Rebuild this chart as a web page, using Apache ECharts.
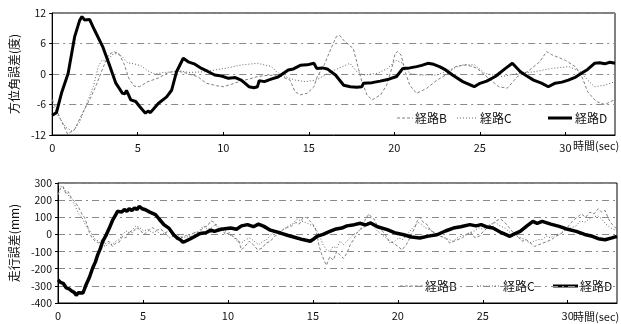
<!DOCTYPE html>
<html>
<head>
<meta charset="utf-8">
<script src="https://cdn.jsdelivr.net/npm/echarts@6/dist/echarts.min.js"></script>
<style>
html,body{margin:0;padding:0;background:#fff;}
#chart{width:621px;height:324px;}
</style>
</head>
<body>
<div id="chart"></div>
<script>
// Heading error (deg) vs time (sec): [time, value]
const headingB = [[0,-5],[0.5,-9],[0.9,-11.8],[1.3,-11],[1.8,-7.5],[2.2,-5],[2.6,-2],[3.0,1.5],[3.3,3.8],[3.6,4.4],[3.9,4.0],[4.2,2],[4.5,-1],[4.8,-2.4],[5.1,-2.5],[5.6,-1.5],[6.2,-0.8],[6.8,0.3],[7.3,0.6],[7.8,0.2],[8.5,-0.5],[9.0,-1.8],[9.6,-2.3],[10.0,-2.5],[10.5,-2.0],[11.0,-1.4],[11.5,-1.0],[12.0,-0.5],[12.5,-0.3],[13.2,-0.2],[13.9,-1.2],[14.2,-3.5],[14.5,-4.1],[14.9,-3.8],[15.3,-2.5],[15.5,-0.5],[15.9,1.8],[16.3,5],[16.6,7.3],[16.8,7.6],[17.1,6.4],[17.6,5.0],[17.8,2.4],[18.1,-1.5],[18.4,-4.1],[18.7,-5.1],[19.2,-4.1],[19.55,-2.2],[19.85,1.1],[20.05,4.1],[20.2,4.4],[20.4,3.7],[20.6,0.8],[20.9,-2.2],[21.3,-3.8],[21.9,-2.8],[22.5,-1.2],[23.0,-0.2],[23.6,1.5],[24.2,1.8],[24.8,1.2],[25.5,-0.8],[26.1,-2.5],[26.6,-2.8],[27.2,-0.5],[27.8,0.5],[28.5,2.4],[28.9,4.4],[29.2,3.8],[30.0,2.7],[30.6,1.4],[31.0,-0.8],[31.3,-3.5],[31.8,-5.4],[32.3,-6],[32.9,-5]];
const headingC = [[0,-6],[0.4,-8.5],[0.8,-10.5],[1.2,-11.3],[1.6,-9.5],[2.0,-6],[2.4,-2.5],[2.7,1.5],[2.9,2.7],[3.2,2.5],[3.5,3.8],[3.8,4.1],[4.1,3.4],[4.4,2.2],[4.8,2.0],[5.2,1.6],[5.6,0.6],[6.0,0.0],[6.5,0.3],[7.0,0.4],[7.5,0.6],[8.0,0.3],[8.9,0.45],[10.1,1.1],[11.1,1.8],[12.0,2.1],[12.8,1.5],[13.1,0.5],[13.6,-0.5],[14.2,-1.2],[14.8,-1.5],[15.4,-1.2],[15.8,-0.5],[16.3,0.5],[16.8,1.2],[17.4,2.1],[17.8,0.5],[18.2,-0.2],[19.0,0.1],[19.6,1.1],[20.1,2.7],[20.5,2.1],[20.9,0.1],[21.5,-0.2],[22.5,-0.2],[23.2,0.8],[24.0,1.8],[24.7,1.8],[25.3,0.1],[26.3,-0.5],[27.2,0.1],[28.2,0.45],[29.2,1.1],[30.2,1.45],[30.9,0.45],[31.3,-1.2],[31.7,-2.5],[32.3,-2.2],[32.9,-1.5]];
const headingD = [[0,-8.1],[0.25,-7.6],[0.54,-3.8],[0.93,0.1],[1.31,7.3],[1.6,10.5],[1.74,11.3],[1.9,10.6],[2.0,10.9],[2.19,10.7],[2.48,8.6],[2.95,5.4],[3.34,1.8],[3.72,-1.8],[4.11,-3.8],[4.25,-3.9],[4.34,-3.2],[4.45,-4.0],[4.59,-5.1],[4.88,-5.4],[5.0,-5.9],[5.11,-6.4],[5.45,-7.7],[5.6,-7.3],[5.74,-7.6],[6.2,-5.8],[6.69,-4.5],[6.98,-3.2],[7.27,0.45],[7.66,3.1],[7.95,2.4],[8.3,2.0],[8.73,1.1],[9.1,0.5],[9.5,-0.2],[9.9,-0.4],[10.3,-0.85],[10.7,-0.7],[11.05,-1.2],[11.3,-1.9],[11.5,-2.5],[11.8,-2.7],[12.0,-2.5],[12.1,-1.3],[12.4,-1.5],[12.8,-1.0],[13.2,-0.6],[13.8,0.8],[14.1,1.0],[14.5,1.7],[14.9,1.8],[15.3,2.1],[15.46,1.1],[15.8,1.2],[16.08,1.0],[16.56,-0.2],[17.04,-2.2],[17.43,-2.5],[17.8,-2.6],[18.1,-2.5],[18.2,-1.8],[18.7,-1.7],[19.17,-1.4],[19.6,-1.1],[20.13,-0.5],[20.5,1.1],[20.9,1.2],[21.3,1.45],[21.6,1.7],[21.96,2.1],[22.3,1.9],[22.64,1.45],[23.0,0.8],[23.4,-0.2],[24.0,-1.5],[24.67,-2.5],[24.96,-1.9],[25.4,-1.4],[25.9,-0.5],[26.5,1.1],[26.9,2.1],[27.37,0.45],[27.7,-0.3],[28.14,-1.2],[28.6,-1.8],[29.0,-2.5],[29.4,-1.8],[29.8,-1.6],[30.17,-1.2],[30.6,-0.6],[30.94,0.14],[31.3,0.9],[31.7,2.1],[32.0,2.2],[32.3,2.0],[32.6,2.3],[32.9,2.1]];

// Lateral error (mm) vs time (sec): [time, value]
const lateralB = [[0,230],[0.15,270],[0.3,280],[0.45,240],[0.6,250],[0.8,210],[1.0,190],[1.2,160],[1.4,120],[1.55,100],[1.7,60],[1.85,10],[2.0,-20],[2.2,-40],[2.4,-50],[2.6,-30],[2.8,-55],[3.0,-40],[3.2,-70],[3.4,-50],[3.6,-45],[3.8,-10],[4.0,-20],[4.2,20],[4.4,10],[4.6,40],[4.8,30],[5.05,0],[5.3,20],[5.55,40],[5.8,25],[6.05,30],[6.3,10],[6.55,20],[6.8,-10],[7.05,0],[7.3,-20],[7.55,-5],[7.8,-15],[8.05,15],[8.3,10],[8.55,40],[8.8,50],[9.0,80],[9.2,70],[9.4,30],[9.6,40],[9.85,0],[10.1,10],[10.35,-20],[10.6,-30],[10.8,-90],[11.0,-70],[11.25,-40],[11.5,-60],[11.75,-90],[12.0,-80],[12.25,-50],[12.5,-40],[12.75,-10],[13.0,0],[13.25,30],[13.5,40],[13.75,50],[14.0,70],[14.2,60],[14.4,95],[14.6,100],[14.8,80],[15.0,60],[15.2,20],[15.35,-60],[15.5,-110],[15.65,-150],[15.8,-180],[16.0,-130],[16.2,-150],[16.4,-100],[16.6,-120],[16.8,-140],[17.0,-110],[17.2,-60],[17.4,-30],[17.6,10],[17.8,30],[18.05,80],[18.3,120],[18.45,100],[18.6,90],[18.8,50],[19.0,30],[19.25,0],[19.5,-40],[19.75,-50],[20.0,-70],[20.25,-90],[20.5,-60],[20.75,-10],[21.0,40],[21.15,80],[21.3,100],[21.5,70],[21.7,60],[21.95,20],[22.2,10],[22.5,-10],[22.8,-20],[23.05,-50],[23.3,-40],[23.55,-30],[23.8,-20],[24.05,0],[24.3,10],[24.55,-20],[24.8,-10],[25.05,20],[25.3,40],[25.55,60],[25.8,80],[26.05,90],[26.3,70],[26.55,40],[26.8,10],[27.05,-10],[27.3,-40],[27.55,-30],[27.8,-50],[28.05,-70],[28.3,-60],[28.55,-50],[28.8,-40],[29.05,-30],[29.3,-10],[29.55,0],[29.8,20],[30.05,50],[30.3,80],[30.55,100],[30.8,120],[31.05,100],[31.3,130],[31.55,120],[31.8,150],[32.0,130],[32.2,140],[32.4,90],[32.6,60],[32.9,30]];
const lateralC = [[0,290],[0.2,280],[0.4,260],[0.6,230],[0.8,200],[1.0,170],[1.2,120],[1.4,100],[1.6,60],[1.8,30],[2.0,0],[2.2,-30],[2.4,-40],[2.6,-60],[2.8,-70],[3.0,-50],[3.2,-60],[3.4,-40],[3.6,-30],[3.8,0],[4.0,20],[4.2,10],[4.4,30],[4.6,50],[4.8,40],[5.05,20],[5.3,30],[5.55,10],[5.8,20],[6.05,0],[6.3,10],[6.55,-20],[6.8,-10],[7.05,-30],[7.3,-10],[7.55,-20],[7.8,0],[8.05,10],[8.3,20],[8.55,50],[8.8,30],[9.05,40],[9.3,60],[9.55,30],[9.8,20],[10.05,0],[10.3,-10],[10.55,-40],[10.8,-50],[11.05,-30],[11.3,-20],[11.55,-40],[11.8,-60],[12.05,-40],[12.3,-30],[12.55,0],[12.8,20],[13.05,10],[13.3,30],[13.55,50],[13.8,60],[14.05,90],[14.3,80],[14.55,70],[14.8,60],[15.0,50],[15.2,30],[15.4,-10],[15.6,-60],[15.8,-90],[16.0,-100],[16.2,-70],[16.4,-80],[16.6,-40],[16.8,-60],[17.0,-40],[17.2,-20],[17.4,0],[17.6,10],[17.8,30],[18.0,40],[18.2,70],[18.4,60],[18.6,40],[18.8,20],[19.05,0],[19.3,-20],[19.55,-50],[19.8,-40],[20.05,-20],[20.3,-30],[20.55,0],[20.8,30],[21.0,50],[21.2,70],[21.4,60],[21.6,40],[21.8,30],[22.0,20],[22.25,0],[22.5,-10],[22.75,-20],[23.0,-30],[23.25,-40],[23.5,-20],[23.75,-10],[24.0,0],[24.25,10],[24.5,20],[24.75,40],[25.0,30],[25.25,50],[25.5,60],[25.75,70],[26.0,50],[26.25,40],[26.5,20],[26.75,0],[27.0,-10],[27.25,-20],[27.5,-30],[27.75,-50],[28.0,-40],[28.25,-30],[28.5,-30],[28.75,-10],[29.0,-20],[29.25,0],[29.5,0],[29.75,20],[30.0,30],[30.25,40],[30.5,50],[30.75,80],[31.0,70],[31.25,90],[31.5,100],[31.75,110],[32.0,90],[32.25,60],[32.5,40],[32.7,30],[32.9,20]];
const lateralD = [[0,-265],[0.15,-280],[0.3,-285],[0.49,-312],[0.65,-318],[0.8,-330],[0.95,-338],[1.07,-355],[1.2,-340],[1.3,-350],[1.46,-342],[1.55,-320],[1.65,-293],[1.85,-250],[2.04,-196],[2.2,-160],[2.34,-118],[2.5,-80],[2.63,-40],[2.8,-10],[3.02,37],[3.2,80],[3.4,115],[3.5,135],[3.6,144],[3.75,130],[3.9,145],[4.05,135],[4.19,150],[4.35,140],[4.5,155],[4.65,145],[4.77,164],[4.95,150],[5.15,144],[5.4,130],[5.74,115],[5.95,90],[6.23,57],[6.52,37],[6.81,-2],[7.0,-20],[7.2,-31],[7.35,-45],[7.49,-40],[7.8,-25],[8.07,-11],[8.37,5],[8.7,10],[9.0,25],[9.2,18],[9.6,30],[10.17,37],[10.5,30],[10.8,50],[11.15,57],[11.5,45],[11.8,60],[12.12,47],[12.5,25],[13.1,8],[13.5,-5],[14.07,-21],[14.4,-30],[14.85,-40],[15.0,-30],[15.24,-11],[15.6,0],[16.0,18],[16.3,30],[16.7,37],[17.0,50],[17.44,57],[17.8,65],[18.1,55],[18.4,67],[18.8,45],[19.38,28],[19.8,10],[20.35,-2],[20.8,-15],[21.3,-21],[21.8,-10],[22.3,-2],[22.8,20],[23.27,37],[23.7,45],[24.24,57],[24.6,50],[24.9,57],[25.2,45],[25.6,37],[26.1,10],[26.6,-11],[26.9,5],[27.2,18],[27.6,50],[27.95,76],[28.2,65],[28.5,76],[29.0,60],[29.5,47],[30.0,30],[30.5,18],[31.0,0],[31.45,-11],[31.8,-25],[32.2,-31],[32.6,-20],[32.9,-11]];

const nameB = '経路B', nameC = '経路C', nameD = '経路D';
const headingTicks = [-12, 12, 6];     // min, max, step
const lateralTicks = [-400, 300, 100]; // min, max, step
const timeRange = [0, 32.9, 5];
const headingTitle = '方位角誤差(度)';
const lateralTitle = '走行誤差(mm)';
const timeTitle = '時間(sec)';

const FONT = '"Noto Sans CJK JP", "Noto Sans", sans-serif';
const INK = '#111';

const styleB = {color: '#808080', width: 1, dash: [3, 2]};
const styleC = {color: '#666666', width: 1, dash: [1, 2]};
const styleD = {color: '#000000', width: 3, dash: null};

const chart = echarts.init(document.getElementById('chart'), null, {renderer: 'canvas'});

function xAxisFor(gridIndex) {
  return {
    type: 'value', gridIndex,
    min: timeRange[0], max: timeRange[1], interval: timeRange[2],
    axisLine: {show: true, onZero: false, lineStyle: {color: '#000', width: 1}},
    axisTick: {show: true, inside: true, length: 3, lineStyle: {color: '#000'}},
    axisLabel: {
      color: INK, fontSize: 11, fontFamily: FONT, margin: 7,
      showMaxLabel: false,
      formatter: v => (v % 5 === 0 && v <= 30) ? String(v) : ''
    },
    splitLine: {show: false}
  };
}

function yAxisFor(gridIndex, ticks, title, gap) {
  return {
    type: 'value', gridIndex,
    min: ticks[0], max: ticks[1], interval: ticks[2],
    name: title, nameLocation: 'middle', nameRotate: 90, nameGap: gap,
    nameTextStyle: {color: INK, fontSize: 12, fontFamily: FONT},
    axisLine: {show: true, lineStyle: {color: '#000', width: 1}},
    axisTick: {show: true, length: 3, lineStyle: {color: '#000'}},
    axisLabel: {color: INK, fontSize: 10.5, fontFamily: FONT, margin: 6},
    splitLine: {show: true, lineStyle: {color: '#8a8a8a', width: 1, type: [7, 4, 2, 4]}}
  };
}

function lineSeries(name, idx, data, st, width) {
  return {
    name, type: 'line', xAxisIndex: idx, yAxisIndex: idx,
    data, showSymbol: false, symbol: 'none', smooth: false,
    lineStyle: {color: st.color, width: width || st.width, type: st.dash || 'solid'},
    itemStyle: {color: st.color},
    animation: false, z: st.width > 2 ? 5 : 3
  };
}

// Legend key: a short line sample followed by its label
function legendKey(st, name, x1, x2, y, textX) {
  const line = {
    type: 'line', silent: true,
    shape: {x1, y1: y, x2, y2: y},
    style: {stroke: st.color, lineWidth: st.width, lineDash: st.dash || null}
  };
  const label = {
    type: 'text', silent: true, x: textX, y,
    style: {text: name, fill: INK, font: '12px ' + FONT, verticalAlign: 'middle', align: 'left'}
  };
  return [line, label];
}

chart.setOption({
  backgroundColor: '#fff',
  animation: false,
  grid: [
    {left: 49, top: 13, width: 566, height: 122, show: true, borderColor: '#000', borderWidth: 1},
    {left: 53, top: 183, width: 564, height: 120, show: true, borderColor: '#000', borderWidth: 1}
  ],
  xAxis: [xAxisFor(0), xAxisFor(1)],
  yAxis: [yAxisFor(0, headingTicks, headingTitle, 30), yAxisFor(1, lateralTicks, lateralTitle, 36)],
  series: [
    lineSeries(nameB, 0, headingB, styleB),
    lineSeries(nameC, 0, headingC, styleC),
    lineSeries(nameD, 0, headingD, styleD),
    lineSeries(nameB, 1, lateralB, styleB),
    lineSeries(nameC, 1, lateralC, styleC),
    lineSeries(nameD, 1, lateralD, styleD, 3.5)
  ],
  graphic: [].concat(
    legendKey(styleB, nameB, 397, 413, 118, 415),
    legendKey(styleC, nameC, 457, 478, 118, 480),
    legendKey(styleD, nameD, 548, 572, 118, 575),
    legendKey(styleB, nameB, 400, 423, 286, 425),
    legendKey(styleC, nameC, 477, 500, 286, 503),
    legendKey(styleD, nameD, 553, 578, 286, 580),
    [
      {type: 'text', left: 573, top: 140, style: {text: timeTitle, fill: INK, font: '11px ' + FONT}},
      {type: 'text', left: 573, top: 311, style: {text: timeTitle, fill: INK, font: '11px ' + FONT}}
    ]
  )
});
</script>
</body>
</html>
